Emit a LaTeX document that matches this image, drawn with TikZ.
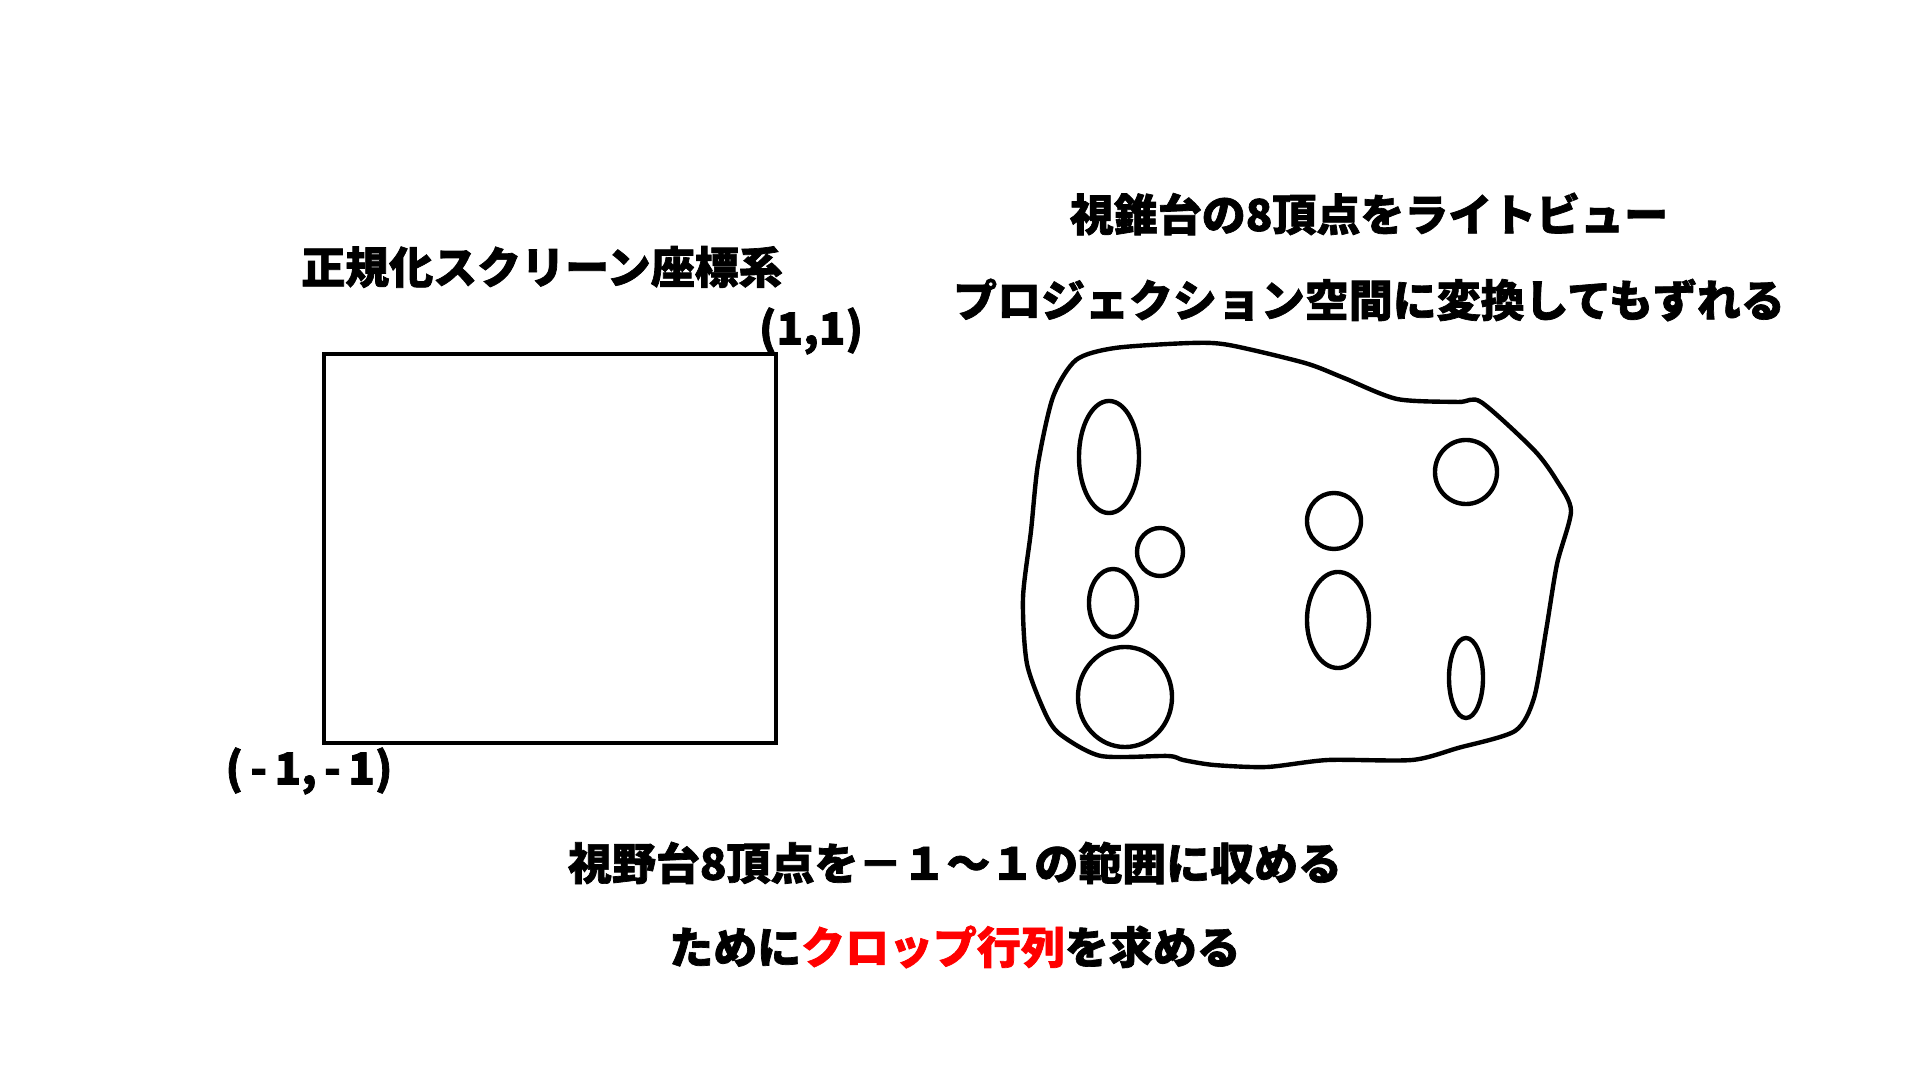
\documentclass[tikz,border=0pt]{standalone}
\usepackage{fontspec}
\newfontfamily\jpfont{Noto Sans CJK JP}[BoldFeatures={FakeBold=1.6}]
\definecolor{ink}{RGB}{0,0,0}
\definecolor{hilite}{RGB}{255,0,0}
\usetikzlibrary{positioning}

\begin{document}
\begin{tikzpicture}[
  x=0.01cm, y=-0.01cm,
  title/.style={font=\jpfont\bfseries\fontsize{12.5pt}{15pt}\selectfont,
                text=ink, inner sep=0pt, align=center},
  corner/.style={font=\jpfont\bfseries\fontsize{12.5pt}{15pt}\selectfont,
                 text=ink, inner sep=0pt},
  frame/.style={draw=ink, line width=1.25pt},
  hole/.style={draw=ink, line width=1.25pt},
]
  \fill[white] (0,0) rectangle (1920,1080);
  \useasboundingbox (0,0) rectangle (1920,1080);

  % Left: normalized screen square
  \coordinate (ndcLL) at (324,743);
  \coordinate (ndcUR) at (776,354);
  \draw[frame] (ndcLL) rectangle (ndcUR);
  \node[title] (nscTitle) at (542,267) {正規化スクリーン座標系};
  \node[corner] (cornerTR) at (811,331) {(1,1)};
  \node[corner] (cornerBL) at (309,771) {(\,-\,1,\,-\,1)};

  % Right: frustum in light view projection
  \node[title] (lvpTitleA) at (1369,214) {視錐台の8頂点をライトビュー};
  \node[title] (lvpTitleB) at (1369,300) {プロジェクション空間に変換してもずれる};
  \draw[frame] plot[smooth cycle, tension=0.45] coordinates {
    (1101,756) (1168,756) (1183,760) (1214,765) (1267,767) (1328,760)
    (1412,760) (1458,748) (1515,731) (1534,698) (1546,631) (1557,564)
    (1571,511) (1557,481) (1534,450) (1481,402) (1458,402)
    (1397,399) (1344,378) (1305,363) (1229,345) (1191,343) (1115,348)
    (1076,360) (1053,397) (1038,464) (1031,531) (1023,598) (1027,664)
    (1046,715) (1061,735)};
  \draw[hole] (1109,457) ellipse [x radius=0.30cm, y radius=0.56cm];
  \draw[hole] (1160,552) ellipse [x radius=0.23cm, y radius=0.24cm];
  \draw[hole] (1113,603) ellipse [x radius=0.24cm, y radius=0.34cm];
  \draw[hole] (1125,697) ellipse [x radius=0.47cm, y radius=0.50cm];
  \draw[hole] (1334,521) ellipse [x radius=0.27cm, y radius=0.28cm];
  \draw[hole] (1338,620) ellipse [x radius=0.31cm, y radius=0.48cm];
  \draw[hole] (1466,472) ellipse [x radius=0.31cm, y radius=0.32cm];
  \draw[hole] (1466,678) ellipse [x radius=0.17cm, y radius=0.40cm];

  % Bottom note
  \node[title] (cropNoteA) at (955,863) {視野台8頂点を－１～１の範囲に収める};
  \node[title] (cropNoteB) at (955,947) {ために{\color{hilite}クロップ行列}を求める};
\end{tikzpicture}
\end{document}
